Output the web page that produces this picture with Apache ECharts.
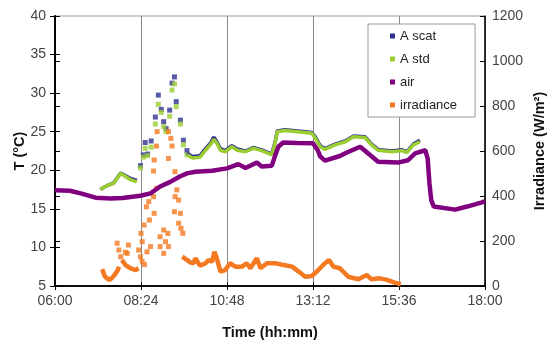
<!DOCTYPE html>
<html>
<head>
<meta charset="utf-8">
<script src="https://cdn.jsdelivr.net/npm/echarts@6/dist/echarts.min.js"></script>
<style>
  html, body { margin: 0; padding: 0; background: #fff; }
  #chart { width: 547px; height: 342px; }
</style>
</head>
<body>
<div id="chart"></div>
<script>
// x ticks every 2h24m
const tickLabels = ['06:00', '08:24', '10:48', '13:12', '15:36', '18:00'];

// air temperature (continuous)
const airTime = ['06:00','06:25','06:43','07:08','07:33','07:53','08:23','08:40','08:56','09:13','09:29','09:41','09:55','10:23','10:48','11:07','11:19','11:38','11:46','12:03','12:09','12:14','12:22','12:45','13:12','13:20','13:24','13:32','13:57','14:06','14:31','14:44','15:01','15:34','15:51','16:03','16:20','16:24','16:27','16:30','16:34','17:10','17:30','17:55','18:00'];
const airTemp = [17.4,17.35,17.0,16.45,16.35,16.4,16.7,17.0,17.9,18.5,19.2,19.6,19.8,19.95,20.25,20.8,20.3,21.0,20.5,20.6,22.0,23.05,23.6,23.55,23.5,22.6,21.8,21.25,21.85,22.2,23.05,22.2,21.1,21.0,21.3,22.2,22.6,21.5,18.3,16.15,15.3,14.9,15.3,15.85,15.95];

// A std / A scat, morning part before the peak
const preTime = ['07:16','07:22','07:30','07:38','07:44','07:50','07:58','08:06','08:17'];
const stdPre  = [17.5,17.8,18.1,18.3,18.95,19.6,19.2,18.8,18.5];
const scatPre = [17.5,17.8,18.1,18.35,19.0,19.65,19.3,18.95,18.7];

// scattered readings around the peak
const peakTime = ['08:23','08:28','08:31','08:35','08:41','08:48','08:53','08:58','09:02','09:06','09:12','09:16','09:20','09:23','09:30','09:35','09:41'];
const scatPeak = [20.6,22.0,23.6,22.1,23.8,26.9,29.75,27.9,26.3,25.4,27.8,31.3,32.1,28.9,26.5,23.9,22.55];
const stdPeak  = [20.3,21.7,22.85,21.9,23.0,26.0,28.55,27.5,25.65,25.0,27.0,30.4,31.2,28.25,26.0,23.3,22.0];

// afternoon part
const postTime = ['09:41','09:50','10:03','10:12','10:20','10:26','10:31','10:37','10:45','10:56','11:05','11:19','11:32','11:46','12:03','12:09','12:12','12:25','12:59','13:10','13:16','13:24','13:32','13:49','14:06','14:20','14:39','14:50','15:01','15:24','15:41','15:49','16:00','16:11'];
const stdPost  = [22.0,21.6,21.7,22.6,23.3,24.0,23.5,22.6,22.4,23.05,22.6,22.4,22.85,22.55,22.0,23.7,25.0,25.15,24.9,24.8,24.15,23.05,22.7,23.3,23.7,24.35,24.25,23.3,22.6,22.4,22.55,22.3,23.3,23.7];
const scatPost = [22.2,21.8,21.9,22.8,23.5,24.3,23.7,22.8,22.55,23.2,22.75,22.5,22.95,22.65,22.1,23.8,25.1,25.25,25.0,24.9,24.3,23.2,22.8,23.4,23.8,24.45,24.35,23.4,22.7,22.5,22.65,22.4,23.4,23.9];

// irradiance, W/m2
const irrTimeA = ['07:19','07:23','07:27','07:31','07:35','07:40','07:45','07:47'];
const irrA     = [75,45,34,27,35,50,70,86];
const irrTimeB = ['07:52','07:58','08:06','08:15','08:20'];
const irrB     = [116,93,79,71,79];
const irrDotTime = ['07:44','07:47','07:50','07:58','08:01','08:03','08:20','08:23','08:24','08:26','08:26','08:29','08:30','08:33','08:34','08:37','08:38','08:40','08:45','08:45','08:46','08:46','08:50','08:50','08:51','08:56','08:56','09:02','09:02','09:05','09:09','09:10','09:10','09:10','09:14','09:16','09:20','09:21','09:21','09:24','09:27','09:27','09:30','09:31','09:34'];
const irrDot     = [190,160,130,150,145,182,160,130,234,197,110,271,95,352,152,375,293,175,397,511,560,323,434,622,686,219,175,249,145,197,234,686,567,175,656,622,330,508,397,427,382,279,323,256,234];
const irrTimeC = ['09:33','09:41','09:47','09:52','09:55','10:03','10:12','10:17','10:23','10:27','10:31','10:37','10:45','10:53','11:02','11:13','11:21','11:27','11:38','11:44','11:55','12:09','12:23','12:37','12:48','12:59','13:10','13:21','13:32','13:39','13:46','13:57','14:11','14:28','14:42','14:50','15:04','15:16','15:29','15:39'];
const irrC     = [130,116,104,101,123,90,101,116,108,152,123,64,71,101,86,86,101,79,123,79,101,101,93,86,64,41,44,71,101,116,86,79,41,30,49,30,34,27,15,8];

const FONT = 'Liberation Sans, Arial, sans-serif';
const C_SCAT = '#2e3192', C_STD = '#9acd32', C_AIR = '#800080', C_IRR = '#f47920';

function toMin(s) {
    const p = s.split(':');
    return (+p[0] - 6) * 60 + (+p[1]);
}
function pairs(times, vals) {
    return times.map((t, i) => [toMin(t), vals[i]]);
}

function lineS(name, color, data, yIdx, width) {
    return { name: name, type: 'line', yAxisIndex: yIdx, data: data, symbol: 'none',
        lineStyle: { color: color, width: width }, itemStyle: { color: color } };
}
function dotS(name, color, data, yIdx) {
    return { name: name, type: 'scatter', yAxisIndex: yIdx, data: data, symbol: 'rect',
        symbolSize: 5, itemStyle: { color: color } };
}

const chart = echarts.init(document.getElementById('chart'), null, { renderer: 'canvas' });

const axisBlack = { lineStyle: { color: '#000', width: 1.5 } };
const labelStyle = { fontSize: 14, color: '#444', fontFamily: FONT };
const nameStyle = { fontSize: 14.5, fontWeight: 'bold', color: '#111', fontFamily: FONT };

chart.setOption({
    animation: false,
    backgroundColor: '#fff',
    grid: { left: 55, right: 62, top: 16, bottom: 56, outerBoundsMode: 'none',
        show: true, borderColor: '#999', borderWidth: 1 },
    legend: {
        orient: 'vertical', left: 368, top: 24,
        icon: 'rect', itemWidth: 5, itemHeight: 5, itemGap: 9,
        padding: [5, 18, 5, 22],
        backgroundColor: '#fff', borderColor: '#999', borderWidth: 1,
        textStyle: { fontSize: 13, color: '#222', fontFamily: FONT, lineHeight: 14 },
        data: ['A scat', 'A std', 'air', 'irradiance']
    },
    xAxis: [{
        type: 'value', min: 0, max: 720, interval: 144,
        axisLine: axisBlack,
        axisTick: { length: 4, lineStyle: { color: '#000' } },
        axisLabel: Object.assign({ margin: 8, formatter: v => tickLabels[Math.round(v / 144)] }, labelStyle),
        splitLine: { show: true, lineStyle: { color: '#888', width: 1 } },
        name: 'Time (hh:mm)', nameLocation: 'middle', nameGap: 39, nameMoveOverlap: false,
        nameTextStyle: nameStyle
    }, {
        type: 'value', min: 0, max: 720, interval: 144, position: 'bottom',
        axisLine: axisBlack,
        axisTick: { inside: true, length: 4, lineStyle: { color: '#000' } },
        axisLabel: { show: false }, splitLine: { show: false }
    }],
    yAxis: [{
        type: 'value', min: 5, max: 40, interval: 5, position: 'left',
        axisLine: axisBlack,
        axisTick: { length: 5, lineStyle: { color: '#000' } },
        axisLabel: Object.assign({ margin: 9 }, labelStyle),
        splitLine: { show: false },
        name: 'T (°C)', nameLocation: 'middle', nameGap: 28, nameRotate: 90, nameMoveOverlap: false,
        nameTextStyle: nameStyle
    }, {
        type: 'value', min: 0, max: 1200, interval: 200, position: 'right',
        axisLine: axisBlack,
        axisTick: { length: 5, lineStyle: { color: '#000' } },
        axisLabel: Object.assign({ margin: 7, formatter: v => String(v) }, labelStyle),
        splitLine: { show: false },
        name: 'Irradiance (W/m²)', nameLocation: 'middle', nameGap: 47, nameRotate: 90, nameMoveOverlap: false,
        nameTextStyle: nameStyle
    }, {
        type: 'value', min: 5, max: 40, interval: 5, position: 'left',
        axisLine: axisBlack,
        axisTick: { inside: true, length: 5, lineStyle: { color: '#000' } },
        axisLabel: { show: false }, splitLine: { show: false }
    }, {
        type: 'value', min: 0, max: 1200, interval: 200, position: 'right',
        axisLine: axisBlack,
        axisTick: { inside: true, length: 5, lineStyle: { color: '#000' } },
        axisLabel: { show: false }, splitLine: { show: false }
    }],
    series: [
        lineS('A scat', C_SCAT, pairs(preTime, scatPre), 0, 3.5),
        lineS('A scat', C_SCAT, pairs(postTime, scatPost), 0, 3.5),
        dotS('A scat', C_SCAT, pairs(peakTime, scatPeak), 0),
        lineS('A std', C_STD, pairs(preTime, stdPre), 0, 3.5),
        lineS('A std', C_STD, pairs(postTime, stdPost), 0, 3.5),
        dotS('A std', C_STD, pairs(peakTime, stdPeak), 0),
        lineS('air', C_AIR, pairs(airTime, airTemp), 0, 4.5),
        lineS('irradiance', C_IRR, pairs(irrTimeA, irrA), 1, 4.5),
        lineS('irradiance', C_IRR, pairs(irrTimeB, irrB), 1, 4.5),
        dotS('irradiance', C_IRR, pairs(irrDotTime, irrDot), 1),
        lineS('irradiance', C_IRR, pairs(irrTimeC, irrC), 1, 4.5)
    ]
});
</script>
</body>
</html>
